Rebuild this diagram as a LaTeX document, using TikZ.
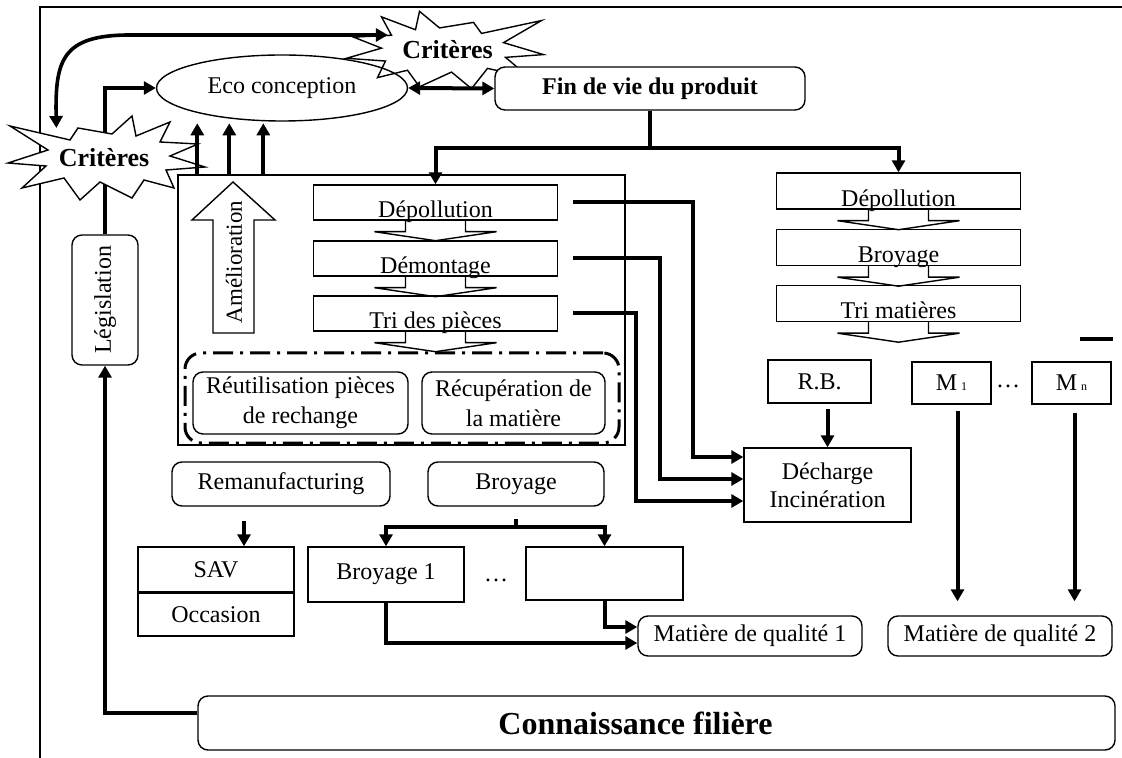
\documentclass[tikz,border=0pt]{standalone}
\usepackage{fontspec}
\setmainfont{Liberation Serif}
\usetikzlibrary{arrows.meta,shapes.geometric}

\tikzset{
    box/.style={draw, line width=0.7pt, inner sep=0pt, align=center, fill=white},
    rbox/.style={box, rounded corners=5pt},
    procbox/.style={box, minimum width=122pt, text height=15.5pt, text depth=0pt, inner ysep=1pt},
    arr/.style={line width=2pt, ->},
    bar/.style={line width=2pt},
    chevron/.style={line width=0.7pt},
    crit/.style={inner sep=0pt, font=\fontsize{13}{15}\selectfont\bfseries},
    burst/.pic={
        \draw[fill=white, line width=0.7pt] (-96,5) -- (-58,8) -- (-82,30) -- (-40,20) -- (-24,42) -- (-4,24)
            -- (28,40) -- (40,22) -- (70,30) -- (62,12) -- (101,9) -- (66,-2) -- (94,-14) -- (56,-16)
            -- (66,-36) -- (32,-22) -- (28,-42) -- (8,-24) -- (-26,-30) -- (-34,-18) -- (-94,-32) -- (-56,-8) -- cycle;
    }
}

\begin{document}
\begin{tikzpicture}[x=0.5pt, y=-0.5pt, font=\fontsize{12}{15}\selectfont,
        >={Triangle[length=6pt,width=6.5pt]}]
    \useasboundingbox (0,0) rectangle (1122,758);
    \draw[line width=0.7pt] (40,758) -- (40,7) -- (1122,7);

    % haut
    \pic[xscale=-1, yscale=0.92] at (447.5,50) {burst};
    \node[crit] (critT) at (447.5,50) {Critères};
    \node[ellipse, draw, line width=0.7pt, minimum width=125.5pt, minimum height=33pt, inner sep=0pt] (eco) at (282,88) {Eco conception};
    \node[rbox, minimum width=155pt, minimum height=21.5pt, font=\fontsize{12}{14}\selectfont\bfseries] (fin) at (650,88.5) {Fin de vie du produit};
    \node[rbox, rotate=90, minimum width=65pt, minimum height=33pt] (legis) at (105,300) {Législation};

    % bloc demontage
    \node[draw, line width=0.7pt, minimum width=223.5pt, minimum height=135pt, inner sep=0pt] (zone) at (401.5,310) {};
    \draw[line width=0.7pt] (213,333) -- (213,220) -- (192,220) -- (233,182) -- (275,220) -- (254,220) -- (254,333) -- cycle;
    \node[rotate=90, font=\fontsize{11.5}{13}\selectfont] (amel) at (234,262) {Amélioration};
    \node[procbox, minimum height=17.5pt] (dep) at (435.5,202.5) {Dépollution};
    \node[procbox, minimum height=17.5pt] (dem) at (435.5,258.5) {Démontage};
    \node[procbox, minimum height=17.5pt] (tri) at (435.5,313.5) {Tri des pièces};
    \node[draw, line width=1.5pt, rounded corners=8pt, dash pattern=on 10pt off 3.5pt on 1.5pt off 3.5pt,
        minimum width=217pt, minimum height=45pt] (reuse) at (402,398) {};
    \node[rbox, minimum width=107.5pt, minimum height=31pt] (reut) at (300.5,403) {Réutilisation pièces\\de rechange};
    \node[rbox, minimum width=91.5pt, minimum height=31pt] (recup) at (513.5,403) {Récupération de\\la matière};

    % bloc broyage
    \node[procbox, minimum height=18pt] (rdep) at (898.5,191) {Dépollution};
    \node[procbox, minimum height=18pt] (rbroy) at (898.5,247.5) {Broyage};
    \node[procbox, minimum height=18pt] (rtri) at (898.5,303.5) {Tri matières};
    \foreach \b in {dep,dem,tri,rdep,rbroy,rtri}
        \draw[chevron] (\b.south) ++(-30,0) -- ++(0,11) -- ++(-31,0) -- ++(61,9) -- ++(61,-9) -- ++(-31,0) -- ++(0,-11);

    \node[box, minimum width=51.5pt, minimum height=21.5pt] (rb) at (819.5,381.5) {R.B.};
    \node[box, minimum width=39.5pt, minimum height=21pt] (m1) at (951.5,383) {M\,{\fontsize{6}{6}\selectfont 1}};
    \node[box, minimum width=39.5pt, minimum height=21pt] (mn) at (1071.5,383) {M\,{\fontsize{6}{6}\selectfont n}};
    \node (dotsB) at (1008,386) {\dots};
    \node[box, minimum width=83.5pt, minimum height=37pt, font=\fontsize{12}{14}\selectfont] (dech) at (827.5,485) {Décharge\\Incinération};

    % bas
    \node[rbox, minimum width=109pt, minimum height=22pt] (reman) at (281,484) {Remanufacturing};
    \node[rbox, minimum width=88pt, minimum height=22pt] (broy) at (516,484) {Broyage};
    \node[box, minimum width=78pt, minimum height=22.5pt] (sav) at (216,569.5) {SAV};
    \node[box, minimum width=78pt, minimum height=21.5pt] (occ) at (216,614.5) {Occasion};
    \node[box, minimum width=78pt, minimum height=27.5pt] (broy1) at (386,574.5) {Broyage 1};
    \node[box, minimum width=78.5pt, minimum height=26.5pt] (broyn) at (604.5,573.5) {};
    \node (dotsA) at (496,580) {\dots};
    \node[rbox, minimum width=112pt, minimum height=20pt] (mat1) at (750,636) {Matière de qualité 1};
    \node[rbox, minimum width=112pt, minimum height=20pt] (mat2) at (1000,636) {Matière de qualité 2};
    \node[rbox, minimum width=458.5pt, minimum height=27pt, font=\fontsize{16}{18}\selectfont\bfseries] (conn) at (656.5,723) {\hspace*{-21pt}Connaissance filière};

    % fleches
    \draw[arr] (legis.east) |- (eco.west);
    \draw[arr] ([yshift=5pt]conn.west) -| (legis.west);
    \pic at (104,158) {burst};
    \node[crit] (critL) at (104,158) {Critères};
    \draw[line width=1.8pt, <->] ([xshift=-7pt,yshift=7.5pt]critT.west) -- (130,35) .. controls (62,35) and (55,60) .. ([xshift=-1pt,yshift=15pt]critL.west);
    \foreach \dx in {20,52,86}
        \draw[arr] ([xshift=\dx*0.5pt]zone.north west) -- ++(0,-51);
    \draw[line width=2pt, <->] (eco.east) -- (fin.west);
    \draw[arr] (fin.south) -- ++(0,37) -| (dep.north);
    \draw[arr] (fin.south) ++(0,37) -| (rdep.north);
    \draw[arr] ([xshift=7.5pt]dep.east) -| (693,457) -- ([yshift=14pt]dech.west);
    \draw[arr] ([xshift=7.5pt]dem.east) -| (660,479) -- ([yshift=3pt]dech.west);
    \draw[arr] ([xshift=7.5pt]tri.east) -| (636,501) -- ([yshift=-8pt]dech.west);
    \draw[arr] ([yshift=-2.5pt]rb.south -| dech.north) -- (dech.north);
    \draw[arr] ([xshift=3pt,yshift=-3pt]m1.south) -- ([xshift=3pt,yshift=7pt]m1.south |- mat2.north);
    \draw[arr] ([xshift=1.5pt,yshift=-4pt]mn.south) -- ([xshift=1.5pt,yshift=7pt]mn.south |- mat2.north);
    \draw[bar] (1080,339) -- (1113,339);
    \draw[arr] ([xshift=-18.5pt,yshift=-7pt]reman.south) -- ([xshift=-18.5pt]reman.south |- sav.north);
    \draw[bar] ([yshift=-6pt]broy.south) -- ([yshift=-10pt]broy.south);
    \draw[arr] ([yshift=-10pt]broy.south) -| (broy1.north);
    \draw[arr] ([yshift=-10pt]broy.south) -| (broyn.north);
    \draw[arr] (broy1.south) |- ([yshift=-3.5pt]mat1.west);
    \draw[arr] (broyn.south) |- ([yshift=4.5pt]mat1.west);
\end{tikzpicture}
\end{document}
